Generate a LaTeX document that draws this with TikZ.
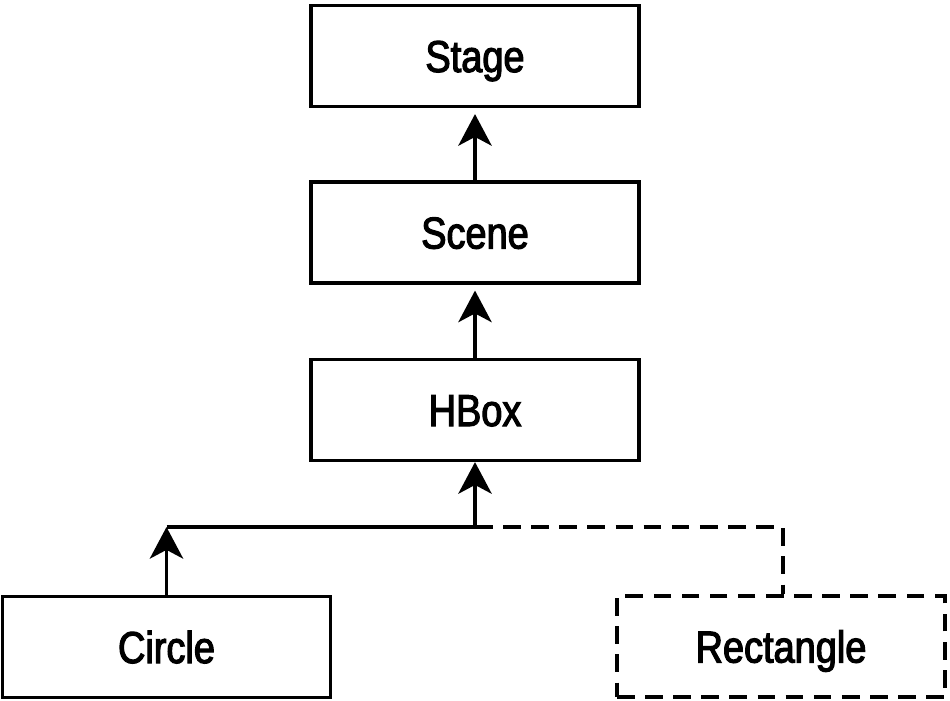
\documentclass[tikz,border=0pt]{standalone}
\usepackage{fontspec}
\setmainfont{Liberation Sans}[FakeStretch=0.85,FakeBold=2.6]
\usetikzlibrary{arrows.meta}

\begin{document}
\begin{tikzpicture}[
  cls/.style={draw=black,line width=0.9pt,minimum width=3.28cm,minimum height=1.01cm,font=\fontsize{12.7}{14}\selectfont,inner sep=0pt,text height=9.1pt,text depth=0pt},
  link/.style={line width=0.9pt,-{Stealth[length=9pt,width=9.5pt,inset=2.5pt]}}
]
\useasboundingbox (0,0) rectangle (9.5,-7);
\coordinate (Pstage) at (4.75,-0.56);
\coordinate (Pscene) at (4.75,-2.325);
\coordinate (Phbox) at (4.75,-4.10);
\coordinate (Pcircle) at (1.665,-6.47);
\coordinate (Prect) at (7.81,-6.465);
\node[cls] (stage) at (Pstage) {Stage};
\node[cls] (scene) at (Pscene) {Scene};
\node[cls] (hbox) at (Phbox) {HBox};
\node[cls] (circle) at (Pcircle) {Circle};
\node[cls,dash pattern=on 5pt off 3pt] (rect) at (Prect) {Rectangle};
\coordinate (J) at (4.75,-5.27);
\coordinate (L) at (circle.north |- J);
\coordinate (R) at (7.83,-5.27);
\draw[link,shorten >=1.7pt] (scene) -- (stage);
\draw[link,shorten >=1.7pt] (hbox) -- (scene);
\draw[link] (J) -- (hbox);
\draw[link] (circle) -- (L);
\draw[line width=0.9pt] (L) -- (J);
\draw[line width=0.9pt,dash pattern=on 5pt off 3pt] (J) -- (R) -- (R |- rect.north);

\end{tikzpicture}
\end{document}
